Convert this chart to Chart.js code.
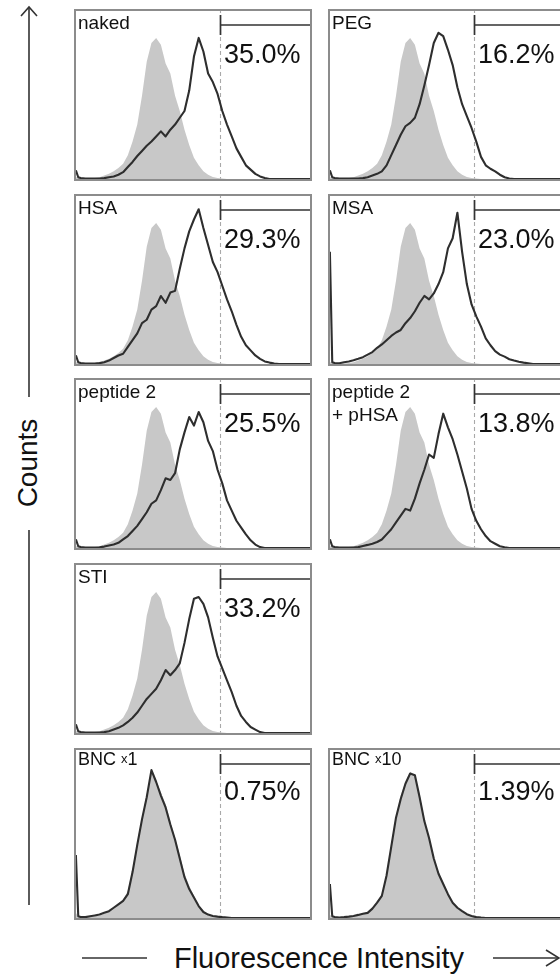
<!DOCTYPE html>
<html>
<head>
<meta charset="utf-8">
<script src="https://cdn.jsdelivr.net/npm/chart.js@4/dist/chart.umd.min.js"></script>
<style>
    html, body { margin: 0; padding: 0; background: #fff; }
    body { width: 560px; height: 974px; overflow: hidden; position: relative;
           font-family: "Liberation Sans", Arial, Helvetica, sans-serif; color: #111; }
    .panel { position: absolute; width: 238px; height: 172px; }
    .panel canvas { position: absolute; left: 0; top: 0; }
    .name { position: absolute; left: 4px; top: 2px; font-size: 19px; line-height: 23px; white-space: pre; }
    .name.small { font-size: 18px; top: 0; }
    .name .mult { font-size: 13px; position: relative; top: -2px; }
    .pct { position: absolute; left: 150px; top: 31.5px; font-size: 27px; line-height: 27px; white-space: nowrap; }
    #axes { position: absolute; left: 0; top: 0; pointer-events: none; }
</style>
</head>
<body>

<svg id="axes" width="560" height="974">
    <g stroke="#333" stroke-width="1.6" fill="none">
        <line x1="29" y1="7" x2="29" y2="397"/>
        <polyline points="21,16 29,7 37,16"/>
        <line x1="29" y1="530" x2="29" y2="905"/>
        <line x1="82" y1="958" x2="147" y2="958"/>
        <line x1="493" y1="958" x2="559" y2="958"/>
        <polyline points="546,950 559,958 546,966"/>
    </g>
    <text x="37" y="463" transform="rotate(-90 37 463)" text-anchor="middle"
          font-family="Liberation Sans, Arial, sans-serif" font-size="28" fill="#111">Counts</text>
    <text x="319" y="968" text-anchor="middle"
          font-family="Liberation Sans, Arial, sans-serif" font-size="29" fill="#111">Fluorescence Intensity</text>
</svg>

<script>
    // fluorescence channel (percent of the log axis)
    var xBins = [0, 1, 2, 4, 6, 8, 10, 12, 14, 16, 18, 20, 22, 24, 26, 28, 30, 32, 34, 36, 38, 40,
        42, 44, 46, 48, 50, 52, 54, 56, 58, 60, 62, 64, 66, 68, 70, 72, 74, 76, 78, 80,
        82, 84, 86, 88, 90, 92, 94, 96, 98, 100];

    // untreated control (gray filled)
    var controlGray = [1, 1, 0.5, 0.3, 0.3, 0.5, 1, 2, 3, 4.5, 6.5, 9, 14, 22, 32, 49, 69, 80, 83, 79, 68, 62,
        49, 40, 29, 20, 12.5, 8, 4.5, 2.5, 1.2, 0.5, 0.2, 0, 0, 0, 0, 0, 0, 0, 0, 0,
        0, 0, 0, 0, 0, 0, 0, 0, 0, 0];
    var bnc1Gray = [3, 0.5, 0.3, 0.3, 0.6, 1, 1.5, 2.5, 4, 6, 8, 10.5, 16, 29, 45, 59, 73, 86, 81, 74, 67, 57,
        47, 37, 26, 19, 13, 7.5, 3.5, 2, 1, 0.5, 0.2, 0, 0, 0, 0, 0, 0, 0, 0, 0,
        0, 0, 0, 0, 0, 0, 0, 0, 0, 0];
    var bnc10Gray = [2, 0.5, 0.3, 0.3, 0.5, 0.8, 1.2, 1.8, 2.5, 3.5, 6, 9.5, 14, 25, 44, 60, 72, 80, 86, 84, 73, 58,
        47, 35, 27, 21, 15, 9, 5.5, 3.5, 2, 1, 0.3, 0, 0, 0, 0, 0, 0, 0, 0, 0,
        0, 0, 0, 0, 0, 0, 0, 0, 0, 0];

    // treated samples (black outline)
    var nakedLine = [5, 1, 0.5, 0.2, 0.2, 0.2, 0.3, 0.5, 1, 1.5, 2.5, 4, 7, 10, 13.5, 16.5, 19.5, 22, 25, 28, 25, 29,
        32, 36, 40, 52, 72, 83, 75, 62, 57, 50, 40, 32, 25, 18, 13, 8, 5.5, 3, 1.5, 0.5,
        0, 0, 0, 0, 0, 0, 0, 0, 0, 0];
    var pegLine = [5, 1, 0.5, 0.2, 0.2, 0.2, 0.2, 0.2, 0.5, 1, 2, 3, 4.5, 8, 14, 20, 26, 31, 33, 36, 44, 55,
        67, 80, 86, 84, 76, 67, 54, 44, 37, 30, 22, 13, 8, 6, 4.5, 2.5, 1, 0.3, 0, 0,
        0, 0, 0, 0, 0, 0, 0, 0, 0, 0];
    var hsaLine = [5, 1, 0.5, 0.3, 0.3, 0.3, 0.5, 1, 2, 3.5, 5, 6, 10, 14, 18, 24, 26, 32, 34, 40, 36, 42,
        43, 56, 68, 78, 85, 91, 80, 70, 60, 54, 46, 38, 31, 23, 16, 11, 8, 5, 3, 1.5,
        0.8, 0.3, 0, 0, 0, 0, 0, 0, 0, 0];
    var msaLine = [66, 1, 0.5, 0.4, 1, 1.5, 2.2, 3, 4, 5.5, 7, 9.5, 11.5, 14, 16.5, 18.5, 20, 24, 27, 31, 36, 40,
        38, 41.5, 47, 54, 68, 74, 89, 66, 47, 35, 28, 22, 15, 11, 7.5, 5.5, 4.3, 2.8, 2, 1.3,
        0.8, 0.4, 0, 0, 0, 0, 0, 0, 0, 0];
    var pep2Line = [5, 1, 0.5, 0.2, 0.2, 0.2, 0.4, 0.8, 1.5, 2, 3, 5, 7, 10, 13, 17, 21, 26, 28, 34, 41, 40,
        44, 58, 68, 77, 72, 80, 74, 63, 57, 46, 38, 28, 22, 16, 12, 8, 4.5, 2, 0.5, 0,
        0, 0, 0, 0, 0, 0, 0, 0, 0, 0];
    var pep2PhsaLine = [5, 1, 0.5, 0.2, 0.2, 0.2, 0.2, 0.5, 1.2, 1.8, 2.5, 3.5, 5, 8, 11, 15, 19, 23, 22, 29, 38, 46,
        55, 53, 67, 79, 71, 64, 55, 45, 35, 23, 16, 11, 7, 4, 2.5, 1, 0.4, 0, 0, 0,
        0, 0, 0, 0, 0, 0, 0, 0, 0, 0];
    var stiLine = [5, 1, 0.5, 0.2, 0.2, 0.2, 0.2, 0.5, 1, 2, 3, 4.5, 6.5, 9, 12, 16, 20, 23, 26, 31, 37, 34,
        37, 41, 53, 67, 79, 80, 76, 68, 56, 45, 38, 31, 24, 16, 10, 6.5, 3.5, 2, 0.5, 0,
        0, 0, 0, 0, 0, 0, 0, 0, 0, 0];
    var bnc1Line = [37, 1, 0.5, 0.5, 1, 1.5, 2, 3, 4, 6, 8, 10, 14, 27, 43, 58, 71, 87, 80, 72, 65, 55,
        46, 35, 24, 17, 12, 7, 3.5, 2, 1.2, 0.8, 0.5, 0.3, 0, 0, 0, 0, 0, 0, 0, 0,
        0, 0, 0, 0, 0, 0, 0, 0, 0, 0];
    var bnc10Line = [20, 1, 0.5, 0.3, 0.5, 0.8, 1.2, 1.8, 2.5, 3, 5.5, 9, 13, 25, 42, 59, 70, 79, 85, 84, 71, 57,
        47, 35, 26, 20, 14, 9, 6, 4, 2.2, 1.2, 0.5, 0.2, 0, 0, 0, 0, 0, 0, 0, 0,
        0, 0, 0, 0, 0, 0, 0, 0, 0, 0];

    var panelNames = ["naked", "PEG", "HSA", "MSA", "peptide 2", "peptide 2\n+ pHSA", "STI", "BNC x1", "BNC x10"];
    var positiveLabels = ["35.0%", "16.2%", "29.3%", "23.0%", "25.5%", "13.8%", "33.2%", "0.75%", "1.39%"];
    var gateX = 61;

    var sampleSeries = [nakedLine, pegLine, hsaLine, msaLine, pep2Line, pep2PhsaLine, stiLine, bnc1Line, bnc10Line];
    var controlSeries = [controlGray, controlGray, controlGray, controlGray, controlGray, controlGray, controlGray, bnc1Gray, bnc10Gray];

    // where each panel sits on the page
    var panelSlots = [[74, 9], [328, 9], [74, 194], [328, 194], [74, 378], [328, 378], [74, 563], [74, 748], [328, 748]];

    function toPoints(values) {
        return xBins.map(function (x, i) { return { x: x, y: values[i] }; });
    }

    // gate marker, dashed cut-off and frame
    var panelDecor = {
        id: "panelDecor",
        beforeDatasetsDraw: function (chart) {
            var ctx = chart.ctx, area = chart.chartArea;
            var gx = Math.round(chart.scales.x.getPixelForValue(gateX)) + 0.5;
            ctx.save();
            ctx.strokeStyle = "#a9a9a9";
            ctx.lineWidth = 1.1;
            ctx.setLineDash([4, 3]);
            ctx.beginPath();
            ctx.moveTo(gx, area.top);
            ctx.lineTo(gx, area.bottom);
            ctx.stroke();
            ctx.restore();
        },
        afterDatasetsDraw: function (chart) {
            var ctx = chart.ctx;
            var w = chart.width, h = chart.height;
            var gx = Math.round(chart.scales.x.getPixelForValue(gateX)) + 0.5;
            ctx.save();
            ctx.strokeStyle = "#333";
            ctx.lineWidth = 1.7;
            ctx.beginPath();
            ctx.moveTo(gx, 16);
            ctx.lineTo(w, 16);
            ctx.moveTo(gx, 6);
            ctx.lineTo(gx, 26);
            ctx.stroke();
            // frame
            ctx.strokeStyle = "#8c8c8c";
            ctx.lineWidth = 2;
            ctx.strokeRect(1, 1, w - 2, h - 2);
            ctx.restore();
        }
    };

    panelNames.forEach(function (name, i) {
        var box = document.createElement("div");
        box.className = "panel";
        box.style.left = panelSlots[i][0] + "px";
        box.style.top = panelSlots[i][1] + "px";

        var canvas = document.createElement("canvas");
        canvas.width = 238;
        canvas.height = 172;
        box.appendChild(canvas);

        var label = document.createElement("div");
        label.className = "name";
        var m = name.match(/^(.*) x(\d+)$/);
        if (m) {
            label.className += " small";
            label.appendChild(document.createTextNode(m[1] + " "));
            var mult = document.createElement("span");
            mult.className = "mult";
            mult.textContent = "x";
            label.appendChild(mult);
            label.appendChild(document.createTextNode(m[2]));
        } else {
            label.textContent = name;
        }
        box.appendChild(label);

        var pct = document.createElement("div");
        pct.className = "pct";
        if (m) pct.style.top = "29.5px";
        pct.textContent = positiveLabels[i];
        box.appendChild(pct);

        document.body.appendChild(box);

        new Chart(canvas.getContext("2d"), {
            type: "line",
            data: {
                datasets: [{
                    label: name,
                    data: toPoints(sampleSeries[i]),
                    borderColor: "#2e2e2e",
                    borderWidth: 2.1,
                    borderJoinStyle: "round",
                    pointRadius: 0,
                    fill: false,
                    tension: 0,
                    order: 0
                }, {
                    label: "control",
                    data: toPoints(controlSeries[i]),
                    borderColor: "rgba(0,0,0,0)",
                    borderWidth: 0,
                    backgroundColor: "#c8c8c8",
                    pointRadius: 0,
                    fill: "origin",
                    tension: 0,
                    order: 1
                }]
            },
            options: {
                responsive: false,
                animation: false,
                devicePixelRatio: 1,
                events: [],
                layout: { padding: 0 },
                plugins: { legend: { display: false }, tooltip: { enabled: false } },
                scales: {
                    x: { type: "linear", display: false, min: -0.8, max: 100 },
                    y: { display: false, min: -1.2, max: 100 }
                }
            },
            plugins: [panelDecor]
        });
    });
</script>
</body>
</html>
